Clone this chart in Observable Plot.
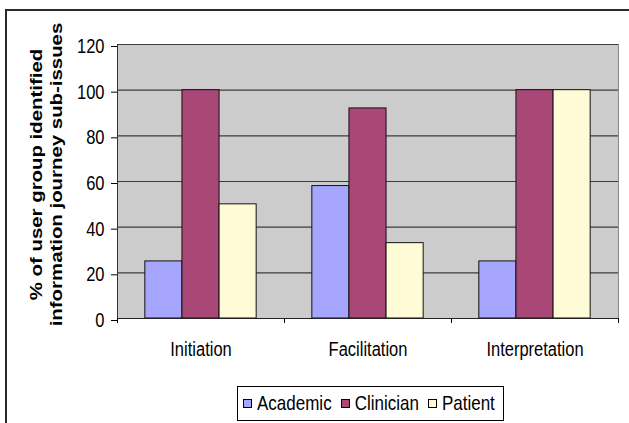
<!DOCTYPE html>
<html><head><meta charset="utf-8">
<script src="https://cdn.jsdelivr.net/npm/d3@7"></script>
<script src="https://cdn.jsdelivr.net/npm/@observablehq/plot@0.6"></script>
<style>
html,body{margin:0;padding:0;background:#fff;}
#wrap{position:relative;width:629px;height:423px;overflow:hidden;font-family:"Liberation Sans",Arial,sans-serif;}
#border{position:absolute;left:5px;top:9px;width:700px;height:500px;border-left:2px solid #2a2a2a;border-top:2px solid #2a2a2a;}
#chart{position:absolute;left:0;top:0;}
#legend{position:absolute;left:237px;top:386px;width:260px;height:33px;padding-left:5px;border:1px solid #000;display:flex;align-items:center;font-size:17px;color:#000;background:#fff;}
.item{display:flex;align-items:center;margin-right:9px;}
.sw{width:7px;height:7px;border:1px solid #000;margin-right:5px;}
.lab{display:inline-block;transform:scaleY(1.2);line-height:1;}
</style></head>
<body><div id="wrap"><div id="border"></div><div id="chart"></div><div id="legend"></div></div>
<script>
const categories = ["Initiation", "Facilitation", "Interpretation"];
const seriesNames = ["Academic", "Clinician", "Patient"];
const academic = [25, 58, 25];
const clinician = [100, 92, 100];
const patient = [50, 33, 100];
const yTicks = [0, 20, 40, 60, 80, 100, 120];
const colors = ["#a6a6ff", "#a94777", "#fffbd6"];
const titleLines = ["% of user group identified", "information journey sub-issues"];

const seriesValues = [academic, clinician, patient];
const rows = [];
categories.forEach((c, ci) => seriesNames.forEach((s, si) =>
  rows.push({category: c, ci, series: s, si, value: seriesValues[si][ci]})));

const groupPad = 1 / 6;
const barSpan = (1 - 2 * groupPad) / seriesNames.length;

const plot = Plot.plot({
  width: 629, height: 380,
  marginTop: 44, marginBottom: 62, marginLeft: 117, marginRight: 11,
  style: {fontFamily: '"Liberation Sans", Arial, sans-serif', fontSize: "16.5px", background: "transparent", color: "#000", overflow: "visible"},
  x: {type: "linear", domain: [0, categories.length]},
  y: {domain: [0, 120]},
  color: {domain: seriesNames, range: colors},
  marks: [
    Plot.frame({fill: "#cccccc", stroke: "#8a8a8a"}),
    Plot.gridY(yTicks, {stroke: "#3c3c3c", strokeOpacity: 1, strokeWidth: 1.2}),
    Plot.rectY(rows, {
      x1: d => d.ci + groupPad + d.si * barSpan,
      x2: d => d.ci + groupPad + (d.si + 1) * barSpan,
      y1: 0, y2: "value", fill: "series", stroke: "#111", strokeWidth: 1
    }),
    Plot.ruleX([0], {stroke: "#333"}),
    Plot.ruleY([0], {stroke: "#222"}),
    Plot.axisY(yTicks, {tickSize: 6, tickPadding: 7, label: null, dy: 2}),
    Plot.axisX(d3.range(categories.length + 1), {tickSize: 5, tickFormat: () => "", label: null}),
    Plot.text(categories, {x: (d, i) => i + 0.5, frameAnchor: "bottom", lineAnchor: "middle", dy: 31, fill: "#000"}),
    Plot.text([titleLines.join("\n")], {
      frameAnchor: "left", rotate: -90, textAnchor: "middle", lineAnchor: "middle",
      lineHeight: 1.15, fontWeight: "bold", fontSize: 17, dx: -71.5, dy: -7, fill: "#000"
    })
  ]
});
document.getElementById("chart").appendChild(plot);

plot.querySelectorAll("text").forEach(t => {
  const b = t.getBBox();
  const cx = b.x + b.width / 2, cy = b.y + b.height / 2;
  const m = t.getCTM();
  const rot = m && Math.abs(m.b) > 0.5;
  const s = rot ? "scale(1.2,1)" : "scale(1,1.2)";
  const prev = t.getAttribute("transform") || "";
  t.setAttribute("transform", `${prev} translate(${cx},${cy}) ${s} translate(${-cx},${-cy})`);
});

const legend = document.getElementById("legend");
seriesNames.forEach((s, i) => {
  const item = document.createElement("div");
  item.className = "item";
  const sw = document.createElement("span");
  sw.className = "sw";
  sw.style.background = colors[i];
  const lab = document.createElement("span");
  lab.className = "lab";
  lab.textContent = s;
  item.appendChild(sw);
  item.appendChild(lab);
  legend.appendChild(item);
});
</script>
</body></html>
